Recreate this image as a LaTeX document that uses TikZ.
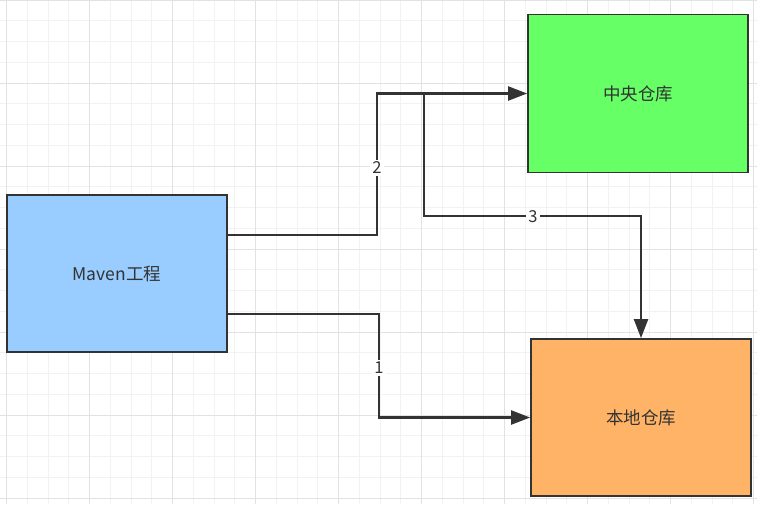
\documentclass[tikz,border=0pt]{standalone}
\usepackage{fontspec}
\setmainfont{Noto Sans CJK SC}
\usetikzlibrary{arrows.meta}
\definecolor{minorgrid}{HTML}{F2F2F2}
\definecolor{majorgrid}{HTML}{E2E2E2}
\definecolor{edgegray}{HTML}{333333}
\definecolor{mavenblue}{HTML}{99CCFF}
\definecolor{centralgreen}{HTML}{66FF66}
\definecolor{localorange}{HTML}{FFB366}
\tikzset{
  boxnode/.style={draw=edgegray, line width=1.8pt, minimum width=220pt, minimum height=157pt,
    text=edgegray, font=\fontsize{17.5}{20}\selectfont, inner sep=0pt},
  conn/.style={draw=edgegray, line width=2.3pt, -{Triangle[length=19pt,width=14pt]}},
  lbl/.style={fill=white, text=edgegray, inner sep=2pt, font=\fontsize{16.5}{18}\selectfont}
}
\begin{document}
\begin{tikzpicture}[x=1pt,y=-1pt]
\fill[white] (0,0) rectangle (757,504);
\useasboundingbox (0,0) rectangle (757,504);
% grid
\foreach \i in {0,...,36} \draw[minorgrid, line width=1pt] ({6.5+20.75*\i},0) -- ++(0,504);
\foreach \i in {0,...,24} \draw[minorgrid, line width=1pt] (0,{20.75*\i}) -- ++(757,0);
\foreach \i in {0,...,9} \draw[majorgrid, line width=1pt] ({6.5+83*\i},0) -- ++(0,504);
\foreach \i in {0,...,6} \draw[majorgrid, line width=1pt] (0,{83*\i}) -- ++(757,0);
% boxes
\node[boxnode, fill=mavenblue] (maven) at (117,273.5) {Maven工程};
\node[boxnode, fill=centralgreen, minimum height=158pt] (central) at (638,93.5) {中央仓库};
\node[boxnode, fill=localorange] (local) at (641,417.5) {本地仓库};
% connectors
\coordinate (j) at (424,93.5);
\draw[conn] ([yshift=38.5pt]maven.east) -- (377,235) |- (central.west);
\draw[conn] (j) -- (424,216) -| (local.north);
\draw[conn] ([yshift=-40.5pt]maven.east) -- (379,314) |- (local.west);
% labels
\node[lbl] (l2) at (377,168) {2};
\node[lbl] (l3) at (533,217) {3};
\node[lbl] (l1) at (379,368) {1};
\end{tikzpicture}
\end{document}
